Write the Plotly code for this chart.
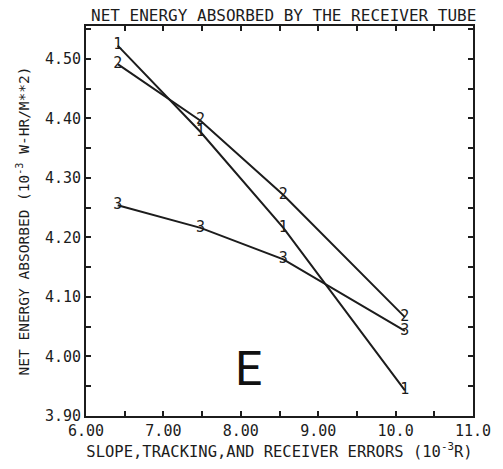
import plotly.graph_objects as go

# Error level on the x axis (10^-3 rad)
errors = [6.41, 7.48, 8.55, 10.12]

# Net energy absorbed for each case (10^-3 W-HR/M**2)
case_labels = ["1", "2", "3"]
case1 = [4.522, 4.377, 4.216, 3.943]
case2 = [4.491, 4.396, 4.271, 4.066]
case3 = [4.254, 4.216, 4.163, 4.043]

x_tick_vals = [6, 7, 8, 9, 10, 11]
x_tick_text = ["6.00", "7.00", "8.00", "9.00", "10.0", "11.0"]
y_tick_vals = [3.90, 4.00, 4.10, 4.20, 4.30, 4.40, 4.50]
y_tick_text = ["3.90", "4.00", "4.10", "4.20", "4.30", "4.40", "4.50"]

MONO = "DejaVu Sans Mono, Liberation Mono, monospace"
INK = "#1c1c1c"

fig = go.Figure()
for label, vals in zip(case_labels, [case1, case2, case3]):
    fig.add_trace(go.Scatter(
        x=errors, y=vals,
        mode="lines+text",
        text=[label] * len(vals),
        textposition="middle center",
        textfont=dict(family=MONO, size=15, color=INK),
        line=dict(color=INK, width=2),
        showlegend=False,
        hoverinfo="skip",
    ))

axis_common = dict(
    showline=True, linecolor=INK, linewidth=2, mirror="allticks",
    ticks="inside", ticklen=5, tickwidth=1.5, tickcolor=INK,
    showgrid=False, zeroline=False,
    tickfont=dict(family=MONO, size=15, color=INK),
)

fig.update_xaxes(
    range=[6, 11], tickvals=x_tick_vals, ticktext=x_tick_text,
    minor=dict(dtick=0.5, tick0=6, ticks="inside", ticklen=5, tickwidth=1.5, tickcolor=INK),
    title=dict(text="SLOPE,TRACKING,AND RECEIVER ERRORS (10<sup>-3</sup>R)",
               font=dict(family=MONO, size=15.5, color=INK), standoff=6),
    **axis_common,
)
fig.update_yaxes(
    range=[3.90, 4.555], tickvals=y_tick_vals, ticktext=y_tick_text,
    minor=dict(dtick=0.05, tick0=3.9, ticks="inside", ticklen=5, tickwidth=1.5, tickcolor=INK),
    title=dict(text="NET ENERGY ABSORBED (10<sup>-3</sup> W-HR/M**2)",
               font=dict(family=MONO, size=14.5, color=INK), standoff=12),
    **axis_common,
)

fig.add_annotation(
    x=8.10, y=3.98, xref="x", yref="y", text="E", showarrow=False,
    font=dict(family="Liberation Sans Narrow, Roboto, Arial", size=48, color="#111"),
)

fig.update_layout(
    width=503, height=469,
    margin=dict(l=86, r=26, t=26, b=52),
    paper_bgcolor="white", plot_bgcolor="white",
    title=dict(text="NET ENERGY ABSORBED BY THE RECEIVER TUBE",
               font=dict(family=MONO, size=16, color=INK),
               x=0.564, xanchor="center", y=0.967, yanchor="middle"),
)

fig.write_html("out.html")
